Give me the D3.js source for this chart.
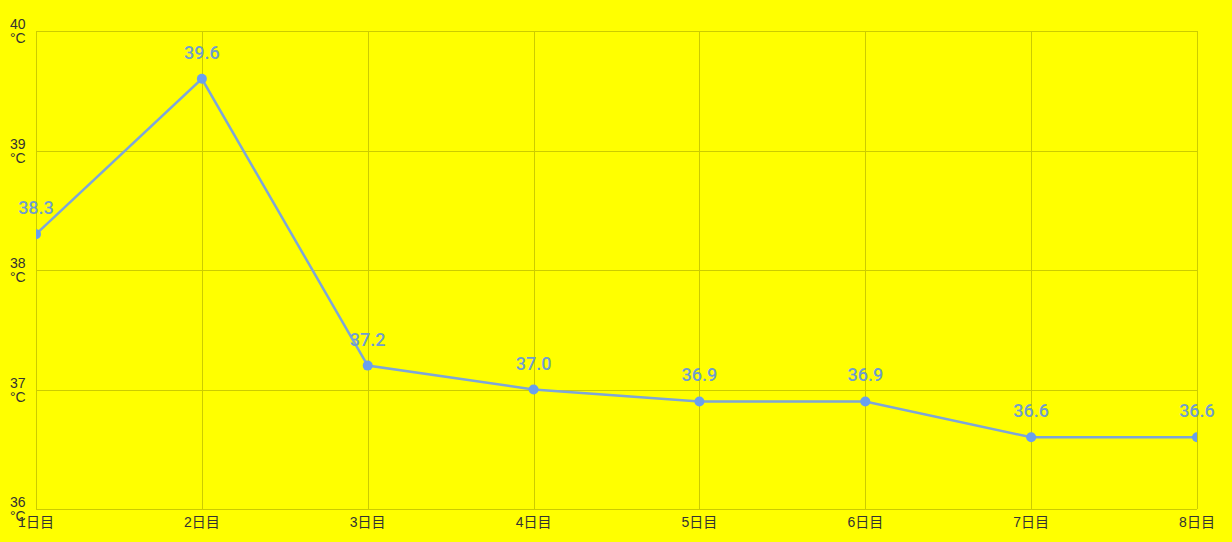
<!DOCTYPE html>
<html>
<head>
<meta charset="utf-8">
<title>体温</title>
<script src="https://cdn.jsdelivr.net/npm/d3@7"></script>
<style>
    html, body { margin: 0; padding: 0; background: #ffff00; }
    text { font-family: Roboto, "Noto Sans CJK JP", sans-serif; }
    .grid line { stroke: #cccc00; stroke-width: 1; shape-rendering: crispEdges; }
    .tick-label { font-size: 14px; fill: #333; font-family: Arial, "Liberation Sans", "Noto Sans CJK JP", sans-serif; }
    .val { font-size: 18px; font-weight: 500; fill: #6f9dcf; text-anchor: middle; }
</style>
</head>
<body>
<svg id="chart" width="1232" height="542"></svg>
<script>
    var days = ["1日目", "2日目", "3日目", "4日目", "5日目", "6日目", "7日目", "8日目"];
    var temps = [38.3, 39.6, 37.2, 37.0, 36.9, 36.9, 36.6, 36.6];
    var yTicks = [36, 37, 38, 39, 40];

    var svg = d3.select("#chart");
    var margin = {left: 36, right: 35, top: 31, bottom: 33};
    var width = 1232, height = 542;

    var x = d3.scalePoint()
        .domain(days)
        .range([margin.left, width - margin.right]);

    var y = d3.scaleLinear()
        .domain([36, 40])
        .range([height - margin.bottom, margin.top]);

    svg.append("rect")
        .attr("width", width).attr("height", height)
        .attr("fill", "#ffff00");

    var grid = svg.append("g").attr("class", "grid");
    grid.selectAll(".h").data(yTicks).enter().append("line")
        .attr("x1", margin.left).attr("x2", width - margin.right)
        .attr("y1", function(d) { return Math.round(y(d)) + 0.5; })
        .attr("y2", function(d) { return Math.round(y(d)) + 0.5; });
    grid.selectAll(".v").data(days).enter().append("line")
        .attr("y1", margin.top).attr("y2", height - margin.bottom)
        .attr("x1", function(d) { return Math.round(x(d)) + 0.5; })
        .attr("x2", function(d) { return Math.round(x(d)) + 0.5; });

    // y labels: value + unit on two lines
    var yl = svg.append("g").selectAll("text").data(yTicks).enter().append("text")
        .attr("class", "tick-label")
        .attr("x", 10)
        .attr("y", function(d) { return y(d) - 2; });
    yl.append("tspan").attr("x", 10).text(function(d) { return d; });
    yl.append("tspan").attr("x", 10).attr("dy", 14).text("°C");

    svg.append("g").selectAll("text").data(days).enter().append("text")
        .attr("class", "tick-label")
        .attr("text-anchor", "middle")
        .attr("x", function(d) { return x(d); })
        .attr("y", height - margin.bottom + 18)
        .text(function(d) { return d; });

    svg.append("clipPath").attr("id", "plot-clip")
        .append("rect")
        .attr("x", margin.left).attr("y", margin.top)
        .attr("width", width - margin.left - margin.right)
        .attr("height", height - margin.top - margin.bottom);

    var line = d3.line()
        .x(function(d, i) { return x(days[i]); })
        .y(function(d) { return y(d); });

    var plot = svg.append("g").attr("clip-path", "url(#plot-clip)");
    plot.append("path")
        .datum(temps)
        .attr("fill", "none")
        .attr("stroke", "#7ea6d8")
        .attr("stroke-width", 2.5)
        .attr("d", line);

    plot.selectAll("circle").data(temps).enter().append("circle")
        .attr("cx", function(d, i) { return x(days[i]); })
        .attr("cy", function(d) { return y(d); })
        .attr("r", 5)
        .attr("fill", "#6aa0ee");

    svg.append("g").selectAll("text").data(temps).enter().append("text")
        .attr("class", "val")
        .attr("x", function(d, i) { return x(days[i]); })
        .attr("y", function(d) { return y(d) - 20; })
        .text(function(d) { return d.toFixed(1); });
</script>
</body>
</html>
